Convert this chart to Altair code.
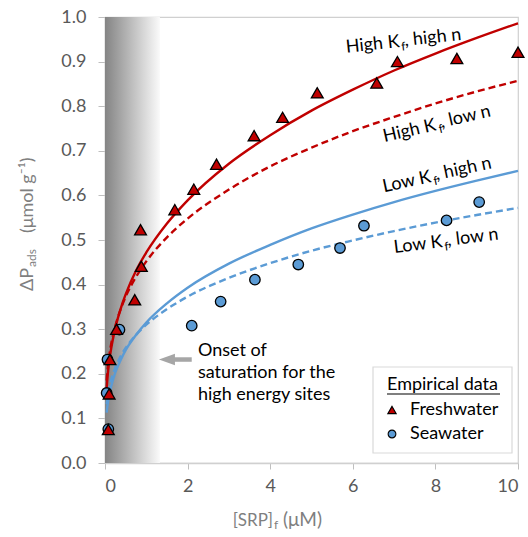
import math
import altair as alt
import pandas as pd

# ---------------- data ----------------
curve_x = [0.04, 0.06, 0.1, 0.15, 0.25, 0.4, 0.5, 0.75, 1, 1.5, 2, 3, 4, 5, 6, 7, 8, 9, 10]
high_kf_high_n = [0.168, 0.192, 0.226, 0.257, 0.303, 0.352, 0.378, 0.431, 0.472, 0.537, 0.589,
                  0.671, 0.735, 0.790, 0.837, 0.880, 0.918, 0.953, 0.986]
high_kf_low_n = [0.185, 0.207, 0.238, 0.267, 0.307, 0.350, 0.373, 0.417, 0.452, 0.506, 0.548,
                 0.613, 0.665, 0.707, 0.744, 0.776, 0.806, 0.833, 0.857]
low_kf_high_n = [0.113, 0.129, 0.151, 0.172, 0.203, 0.235, 0.253, 0.287, 0.315, 0.358, 0.393,
                 0.447, 0.489, 0.526, 0.557, 0.585, 0.610, 0.633, 0.655]
low_kf_low_n = [0.132, 0.147, 0.168, 0.187, 0.214, 0.243, 0.258, 0.287, 0.310, 0.345, 0.373,
                0.415, 0.448, 0.476, 0.499, 0.520, 0.539, 0.556, 0.572]

fresh_x = [0.08, 0.10, 0.12, 0.28, 0.72, 0.88, 0.86, 1.69, 2.15, 2.70, 3.61, 4.30, 5.14, 6.58, 7.08, 8.52, 10.0]
fresh_y = [0.075, 0.155, 0.232, 0.300, 0.366, 0.441, 0.523, 0.568, 0.614, 0.670, 0.734, 0.775,
           0.830, 0.852, 0.900, 0.907, 0.921]
sea_x = [0.08, 0.04, 0.06, 0.35, 2.10, 2.80, 3.63, 4.68, 5.69, 6.27, 8.27, 9.06]
sea_y = [0.076, 0.157, 0.232, 0.299, 0.308, 0.362, 0.411, 0.445, 0.482, 0.532, 0.544, 0.585]

x_ticks = [0, 2, 4, 6, 8, 10]
y_ticks = [0.0, 0.1, 0.2, 0.3, 0.4, 0.5, 0.6, 0.7, 0.8, 0.9, 1.0]

shade_x = [0.0, 1.33]
arrow_tip_x, arrow_head_base_x, arrow_tail_x, arrow_y = 1.31, 1.69, 2.10, 0.232
onset_lines = ["Onset of", "saturation for the", "high energy sites"]
onset_x = 2.25
onset_y = [0.251, 0.202, 0.153]

# curve labels: (left text, right text, anchor page px x, anchor page px y, angle)
curve_labels = [
    ("High K", ", high n", 400, 47, 354),
    ("High K", ", low n", 437, 130, 347),
    ("Low K", ", high n", 432, 182, 348),
    ("Low K", ", low n", 443, 247, 353),
]

# ---------------- layout / style ----------------
FONT = "Lato"
W, H = 413, 446
PAD_L, PAD_T = 105, 17
RED, BLUE = "#c00000", "#5b9bd5"
TXT_GRAY = "#595959"
TITLE_GRAY = "#7f7f7f"

xs = alt.Scale(domain=[0, 10], nice=False)
ys = alt.Scale(domain=[0, 1], nice=False)
xaxis = alt.Axis(values=x_ticks, format="d", title=None, grid=False, tickSize=6,
                 labelFontSize=18, labelColor=TXT_GRAY, labelFont=FONT, labelPadding=8,
                 domainColor="#d0d0d0", domainWidth=1.5, tickColor="#bfbfbf")
yaxis = alt.Axis(values=y_ticks, format=".1f", title=None, grid=False, tickSize=7,
                 labelFontSize=18, labelColor=TXT_GRAY, labelFont=FONT, labelPadding=12,
                 domainColor="#d0d0d0", domainWidth=1.5, tickColor="#bfbfbf")


def X(f):
    return alt.X(f, type="quantitative", scale=xs, axis=xaxis)


def Y(f):
    return alt.Y(f, type="quantitative", scale=ys, axis=yaxis)


def px(v):
    return alt.value(v - PAD_L)


def py(v):
    return alt.value(v - PAD_T)


one = pd.DataFrame({"a": [0]})
layers = []

# shaded gradient band
shade_df = pd.DataFrame({"x0": [shade_x[0]], "x1": [shade_x[1]], "y0": [0.0], "y1": [1.0]})
layers.append(
    alt.Chart(shade_df).mark_rect(
        fill=alt.LinearGradient(
            gradient="linear",
            stops=[alt.GradientStop(color="#848484", offset=0),
                   alt.GradientStop(color="#fafafa", offset=1)],
            x1=0, x2=1, y1=0, y2=0)
    ).encode(x=X("x0"), x2="x1", y=Y("y0"), y2="y1")
)

# model curves
for vals, color, dash in [
    (high_kf_high_n, RED, None), (high_kf_low_n, RED, [7, 4]),
    (low_kf_high_n, BLUE, None), (low_kf_low_n, BLUE, [7, 4]),
]:
    df = pd.DataFrame({"x": curve_x, "y": vals})
    kw = dict(color=color, strokeWidth=2.4, interpolate="monotone")
    if dash:
        kw["strokeDash"] = dash
    layers.append(alt.Chart(df).mark_line(**kw).encode(x=X("x"), y=Y("y")))

# empirical points
sea_df = pd.DataFrame({"x": sea_x, "y": sea_y})
layers.append(alt.Chart(sea_df).mark_point(shape="circle", filled=True, fill=BLUE, stroke="black",
                                            strokeWidth=1.3, size=110, opacity=1)
              .encode(x=X("x"), y=Y("y")))
fresh_df = pd.DataFrame({"x": fresh_x, "y": fresh_y})
layers.append(alt.Chart(fresh_df).mark_point(shape="triangle-up", filled=True, fill=RED, stroke="black",
                                              strokeWidth=1.3, size=140, opacity=1)
              .encode(x=X("x"), y=Y("y")))

# arrow
shaft_df = pd.DataFrame({"x": [arrow_head_base_x - 0.1], "x2": [arrow_tail_x], "y": [arrow_y]})
layers.append(alt.Chart(shaft_df).mark_rule(color="#a6a6a6", strokeWidth=4.5)
              .encode(x=X("x"), x2="x2", y=Y("y")))
head_df = pd.DataFrame({"x": [(arrow_tip_x + arrow_head_base_x) / 2], "y": [arrow_y]})
layers.append(alt.Chart(head_df).mark_point(shape="M-1,0L1,-0.72L1,0.72Z", filled=True,
                                             fill="#a6a6a6", strokeWidth=0, size=256, opacity=1)
              .encode(x=X("x"), y=Y("y")))

# onset annotation
onset_df = pd.DataFrame({"x": [onset_x] * 3, "y": onset_y, "t": onset_lines})
layers.append(alt.Chart(onset_df).mark_text(align="left", baseline="middle", font=FONT,
                                             fontSize=18, color="black")
              .encode(x=X("x"), y=Y("y"), text="t:N"))


def rot(a, b, ang):
    t = math.radians(ang)
    return a * math.cos(t) - b * math.sin(t), a * math.sin(t) + b * math.cos(t)


# curve labels with subscript f
for left, right, ax, ay, ang in curve_labels:
    layers.append(alt.Chart(one).mark_text(text=left, align="right", baseline="alphabetic",
                                           angle=ang, font=FONT, fontSize=18, color="black")
                  .encode(x=px(ax), y=py(ay)))
    sdx, sdy = rot(1, 4, ang)
    layers.append(alt.Chart(one).mark_text(text="f", align="left", baseline="alphabetic",
                                           angle=ang, font=FONT, fontSize=12, color="black",
                                           dx=sdx, dy=sdy)
                  .encode(x=px(ax), y=py(ay)))
    rdx, rdy = rot(5, 0, ang)
    layers.append(alt.Chart(one).mark_text(text=right, align="left", baseline="alphabetic",
                                           angle=ang, font=FONT, fontSize=18, color="black",
                                           dx=rdx, dy=rdy)
                  .encode(x=px(ax), y=py(ay)))

# legend
layers.append(alt.Chart(one).mark_rect(fill="white", stroke="#d9d9d9", strokeWidth=1.2)
              .encode(x=px(373), x2=px(512), y=py(367), y2=py(453)))
layers.append(alt.Chart(one).mark_text(text="Empirical data", align="left", baseline="middle",
                                       font=FONT, fontSize=18, color="black")
              .encode(x=px(387), y=py(385)))
layers.append(alt.Chart(one).mark_rule(color="black", strokeWidth=1.2)
              .encode(x=px(387), x2=px(500), y=py(394)))
layers.append(alt.Chart(one).mark_point(shape="triangle-up", filled=True, fill=RED, stroke="black",
                                        strokeWidth=1.1, size=70, opacity=1)
              .encode(x=px(392), y=py(410)))
layers.append(alt.Chart(one).mark_text(text="Freshwater", align="left", baseline="middle",
                                       font=FONT, fontSize=18, color="black")
              .encode(x=px(410), y=py(410)))
layers.append(alt.Chart(one).mark_point(shape="circle", filled=True, fill=BLUE, stroke="black",
                                        strokeWidth=1.1, size=60, opacity=1)
              .encode(x=px(392), y=py(434)))
layers.append(alt.Chart(one).mark_text(text="Seawater", align="left", baseline="middle",
                                       font=FONT, fontSize=18, color="black")
              .encode(x=px(410), y=py(434)))

# x-axis title: [SRP]f (μM)
layers.append(alt.Chart(one).mark_text(text="[SRP]", align="right", baseline="alphabetic",
                                       font=FONT, fontSize=17, color=TITLE_GRAY)
              .encode(x=px(273), y=py(526)))
layers.append(alt.Chart(one).mark_text(text="f", align="left", baseline="alphabetic",
                                       font=FONT, fontSize=12, color=TITLE_GRAY)
              .encode(x=px(274), y=py(529)))
layers.append(alt.Chart(one).mark_text(text="(μM)", align="left", baseline="alphabetic",
                                       font=FONT, fontSize=19, color=TITLE_GRAY)
              .encode(x=px(283), y=py(526)))

# y-axis title: ΔPads (μmol g⁻¹)
layers.append(alt.Chart(one).mark_text(text="ΔP", align="left", baseline="alphabetic", angle=270,
                                       font=FONT, fontSize=18, color=TITLE_GRAY)
              .encode(x=px(33), y=py(291)))
layers.append(alt.Chart(one).mark_text(text="ads", align="left", baseline="alphabetic", angle=270,
                                       font=FONT, fontSize=12, color=TITLE_GRAY)
              .encode(x=px(36), y=py(267)))
layers.append(alt.Chart(one).mark_text(text="(μmol g⁻¹)", align="left", baseline="alphabetic",
                                       angle=270, font=FONT, fontSize=18, color=TITLE_GRAY)
              .encode(x=px(33), y=py(233)))

chart = alt.layer(*layers).properties(
    width=W, height=H,
    padding={"left": PAD_L, "top": PAD_T, "right": 10, "bottom": 74},
    autosize=alt.AutoSizeParams(type="none"),
    background="white",
).configure_view(stroke="#d0d0d0", strokeWidth=1.2)

chart.save("out.html", embed_options={"renderer": "svg", "actions": False})
